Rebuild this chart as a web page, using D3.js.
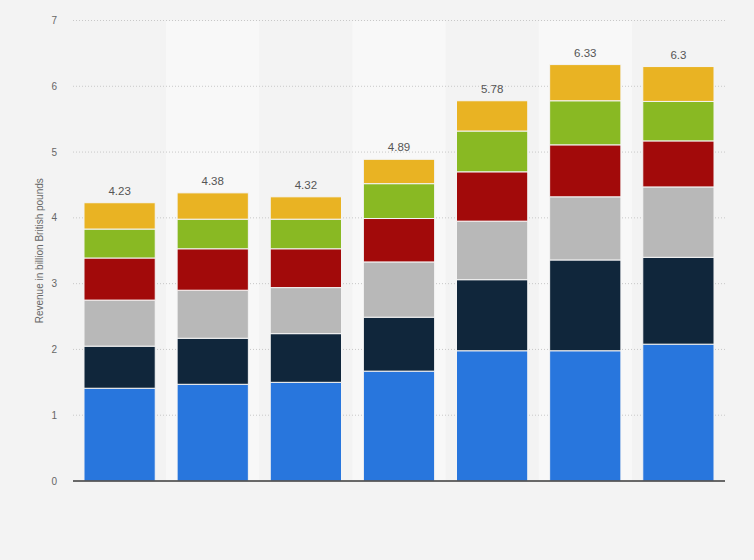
<!DOCTYPE html>
<html>
<head>
<meta charset="utf-8">
<script src="https://d3js.org/d3.v7.min.js"></script>
<style>
  body { margin: 0; background: #f3f3f3; }
  text { font-family: "Liberation Sans", Arial, sans-serif; }
</style>
</head>
<body>
<svg id="chart" width="754" height="560"></svg>
<script>
// one entry per bar, left to right (no category labels shown)
var categories = ["c1", "c2", "c3", "c4", "c5", "c6", "c7"];
var totals = [4.23, 4.38, 4.32, 4.89, 5.78, 6.33, 6.3];
// stacked segments, bottom to top
var seriesBlue   = [1.41, 1.47, 1.50, 1.67, 1.98, 1.98, 2.08];
var seriesNavy   = [0.64, 0.70, 0.74, 0.82, 1.08, 1.38, 1.32];
var seriesGray   = [0.70, 0.73, 0.70, 0.84, 0.89, 0.96, 1.07];
var seriesRed    = [0.64, 0.63, 0.59, 0.66, 0.75, 0.79, 0.70];
var seriesGreen  = [0.44, 0.45, 0.45, 0.53, 0.62, 0.67, 0.60];
var seriesYellow = [0.40, 0.40, 0.34, 0.37, 0.46, 0.55, 0.53];
var yTicks = [0, 1, 2, 3, 4, 5, 6, 7];

var series = [seriesBlue, seriesNavy, seriesGray, seriesRed, seriesGreen, seriesYellow];
var colors = ["#2876dd", "#10263b", "#b8b8b8", "#a20a0a", "#89b923", "#e9b323"];

var svg = d3.select("#chart");
var plotLeft = 73, plotRight = 725, plotTop = 20.5, plotBottom = 481;

var x = d3.scaleBand().domain(categories).range([plotLeft, plotRight]).paddingInner(0.235).paddingOuter(0.118);
var bandStep = (plotRight - plotLeft) / categories.length;
var y = d3.scaleLinear().domain([0, 7]).range([plotBottom, plotTop]);

// alternating column bands
svg.selectAll("rect.band")
  .data(categories.filter(function(d, i){ return i % 2 == 1; }))
  .enter()
  .append("rect")
    .attr("x", function(d){ return plotLeft + categories.indexOf(d) * bandStep; })
    .attr("y", plotTop)
    .attr("width", bandStep)
    .attr("height", plotBottom - plotTop)
    .style("fill", "#f8f8f8");

// gridlines
svg.selectAll("line.grid")
  .data(yTicks.filter(function(d){ return d > 0; }))
  .enter()
  .append("line")
    .attr("x1", plotLeft).attr("x2", plotRight)
    .attr("y1", function(d){ return y(d); })
    .attr("y2", function(d){ return y(d); })
    .style("stroke", "#c8c8c8")
    .style("stroke-width", 1)
    .style("stroke-dasharray", "1,2");

// tick labels
svg.selectAll("text.tick")
  .data(yTicks)
  .enter()
  .append("text")
    .attr("x", 57)
    .attr("y", function(d){ return y(d); })
    .attr("dy", "0.35em")
    .attr("text-anchor", "end")
    .style("font-size", "10px")
    .style("fill", "#666")
    .text(function(d){ return d; });

// stack the data
var rows = categories.map(function(c, i){
  var r = { cat: c };
  series.forEach(function(s, k){ r["s" + k] = s[i]; });
  return r;
});
var stack = d3.stack().keys(series.map(function(s, k){ return "s" + k; }));
var layers = stack(rows);

svg.selectAll("g.layer")
  .data(layers)
  .enter()
  .append("g")
    .style("fill", function(d, k){ return colors[k]; })
  .selectAll("rect")
  .data(function(d){ return d; })
  .enter()
  .append("rect")
    .attr("x", function(d){ return x(d.data.cat); })
    .attr("width", x.bandwidth())
    .attr("y", function(d){ return y(d[1]); })
    .attr("height", function(d){ return y(d[0]) - y(d[1]); })
    .style("stroke", "#f4f4f4")
    .style("stroke-width", 1);

// totals above bars
svg.selectAll("text.total")
  .data(categories)
  .enter()
  .append("text")
    .attr("x", function(d){ return x(d) + x.bandwidth() / 2; })
    .attr("y", function(d, i){ return y(totals[i]) - 8; })
    .attr("text-anchor", "middle")
    .style("font-size", "11.5px")
    .style("fill", "#555")
    .text(function(d, i){ return totals[i]; });

// baseline
svg.append("line")
  .attr("x1", plotLeft).attr("x2", plotRight)
  .attr("y1", plotBottom).attr("y2", plotBottom)
  .style("stroke", "#3a3a3a")
  .style("stroke-width", 1.5);

// y axis title
svg.append("text")
  .attr("transform", "translate(43," + ((plotTop + plotBottom) / 2) + ") rotate(-90)")
  .attr("text-anchor", "middle")
  .style("font-size", "10px")
  .style("fill", "#666")
  .text("Revenue in billion British pounds");
</script>
</body>
</html>
